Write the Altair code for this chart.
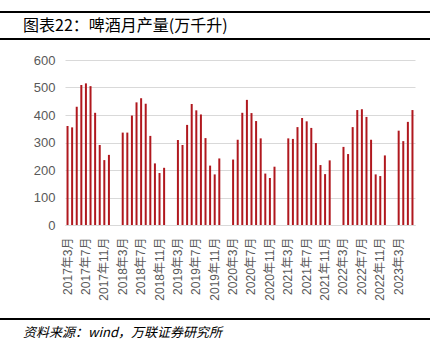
import altair as alt
import pandas as pd

years = [2017, 2018, 2019, 2020, 2021, 2022, 2023]

# Monthly values (Mar..Dec each year; 2023 Mar..Jun); Jan/Feb have no data
v2017 = [360, 355, 430, 509, 515, 505, 408, 291, 236, 255]
v2018 = [336, 336, 398, 446, 461, 441, 324, 224, 189, 208]
v2019 = [309, 291, 364, 440, 417, 402, 316, 216, 184, 242]
v2020 = [238, 310, 408, 455, 407, 378, 315, 187, 171, 212]
v2021 = [315, 313, 356, 389, 377, 353, 298, 218, 185, 235]
v2022 = [284, 258, 356, 418, 421, 393, 310, 184, 178, 253]
v2023 = [343, 305, 375, 418]
series = [v2017, v2018, v2019, v2020, v2021, v2022, v2023]

months = []
values = []
for y, vals in zip(years, series):
    start = 1 if y != 2017 else 3
    if y == 2017:
        ms = list(range(3, 13))
    elif y == 2023:
        ms = list(range(1, 7))
    else:
        ms = list(range(1, 13))
    for m in ms:
        months.append(f"{y}年{m}月")
        if m >= 3:
            values.append(vals[m - 3])
        else:
            values.append(None)

tick_labels = months[::4]

df = pd.DataFrame({"month": months, "value": values})
one = pd.DataFrame({"k": [0]})

FONT = "Liberation Sans, Noto Sans CJK SC"
GRAY = "#595959"

bars = alt.Chart(df).mark_bar(size=2, color="#B0181E").encode(
    x=alt.X("month:N", sort=months,
            scale=alt.Scale(domain=months, paddingInner=0, paddingOuter=0.05),
            axis=alt.Axis(values=tick_labels, labelAngle=-90, title=None,
                          ticks=False, domainColor="#d9d9d9", labelColor=GRAY,
                          labelFontSize=12, labelFont=FONT, labelPadding=12,
                          grid=False)),
    y=alt.Y("value:Q", scale=alt.Scale(domain=[0, 600]),
            axis=alt.Axis(values=[0, 100, 200, 300, 400, 500, 600], title=None,
                          ticks=False, domain=False, gridColor="#d9d9d9",
                          labelColor=GRAY, labelFontSize=13, labelFont=FONT,
                          labelPadding=10)),
)

def hrule(y):
    return alt.Chart(one).mark_rule(color="black", strokeWidth=2).encode(
        x=alt.value(-65), x2=alt.value(365), y=alt.value(y))

title = alt.Chart(one).mark_text(
    align="left", baseline="middle", fontSize=16, font="Noto Sans CJK SC", color="black"
).encode(x=alt.value(-42), y=alt.value(-34), text=alt.value("图表22：啤酒月产量(万千升)"))

source = alt.Chart(one).mark_text(
    align="left", baseline="middle", fontSize=13, font="Noto Sans CJK SC",
    fontStyle="italic", color="black"
).encode(x=alt.value(-42), y=alt.value(273), text=alt.value("资料来源：wind，万联证券研究所"))

chart = alt.layer(bars, hrule(-48), hrule(-21), hrule(259), title, source).properties(
    width=350, height=165,
    autosize=alt.AutoSizeParams(type="none"),
    padding={"left": 65, "top": 60, "right": 33, "bottom": 130},
).configure_view(stroke=None)

chart.save("out.html", embed_options={"renderer": "svg", "actions": False})
